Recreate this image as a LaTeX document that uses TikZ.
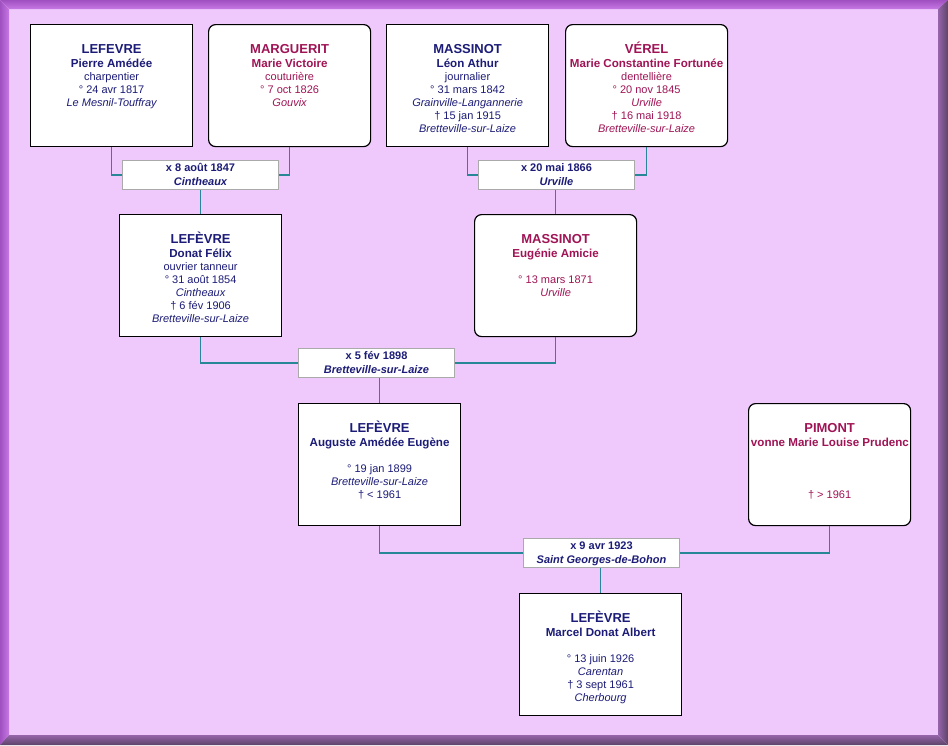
\documentclass[tikz,border=0pt]{standalone}
\usepackage{fontspec}
\setmainfont{Liberation Sans}
\usetikzlibrary{calc}
\definecolor{bg}{RGB}{240,201,252}
\definecolor{male}{RGB}{28,28,120}
\definecolor{fem}{RGB}{160,20,85}
\definecolor{link}{RGB}{40,135,150}
\definecolor{mbord}{RGB}{170,170,170}
\definecolor{frlo}{RGB}{160,80,192}
\definecolor{frli}{RGB}{198,120,228}
\definecolor{frdo}{RGB}{92,68,104}
\definecolor{frdi}{RGB}{150,100,170}
\newcommand\PNm{\fontsize{13}{15}\selectfont\bfseries}
\newcommand\PFn{\fontsize{11.6}{13}\selectfont\bfseries}
\newcommand\PIt{\fontsize{11}{13}\selectfont\itshape}
\newcommand\MBd{\fontsize{11}{13}\selectfont\bfseries}
\newcommand\MIt{\fontsize{11}{13}\selectfont\bfseries\itshape}
\tikzset{
  pbox/.style={draw=black, line width=1.2pt, fill=white, minimum width=162pt, minimum height=122pt, inner sep=0pt, anchor=north west},
  fbox/.style={pbox, rounded corners=7pt},
  mbox/.style={draw=mbord, line width=1pt, fill=white, minimum width=156pt, minimum height=29pt, inner sep=0pt, anchor=north west},
  lnk/.style={draw=link, line width=1.5pt},
  ln/.style={anchor=base, inner sep=0pt, font=\fontsize{11}{13}\selectfont},
}
\newcommand\ptext[3]{%
  \foreach \t [count=\i] in {#3}{%
    \pgfmathsetmacro\off{\i==1 ? 29 : (\i==2 ? 43 : 56+13*(\i-3))}
    \node[ln, text=#2] at ($(#1.north)+(0,\off)$) {\t};
  }}
\newcommand\mtext[3]{%
  \node[ln, text=male] at ($(#1.north)+(0,11.7)$) {\MBd #2};
  \node[ln, text=male] at ($(#1.north)+(0,25)$) {\MIt #3};}
\begin{document}
\begin{tikzpicture}[x=1pt,y=-1pt]
\useasboundingbox (0,0) rectangle (948,745);
% frame
\fill[bg] (9,9) rectangle (938,735);
\shade[top color=frlo, bottom color=frli] (0,0) -- (948,0) -- (938,9) -- (9,9) -- cycle;
\shade[left color=frlo, right color=frli] (0,0) -- (9,9) -- (9,735) -- (0,745) -- cycle;
\shade[top color=frdi, bottom color=frdo] (0,745) -- (9,735) -- (938,735) -- (948,745) -- cycle;
\shade[left color=frdi, right color=frdo] (948,0) -- (938,9) -- (938,735) -- (948,745) -- cycle;
% persons
\node[pbox] (p1) at (30,24) {};
\node[fbox] (p2) at (208,24) {};
\node[pbox] (p3) at (386,24) {};
\node[fbox] (p4) at (565,24) {};
\node[pbox] (d1) at (119,214) {};
\node[fbox] (e1) at (474,214) {};
\node[pbox] (a1) at (298,403) {};
\node[fbox] (pm) at (748,403) {};
\node[pbox] (mc) at (519,593) {};
% marriages
\node[mbox] (m1) at (122,160) {};
\node[mbox] (m2) at (478,160) {};
\node[mbox] (m3) at (298,348) {};
\node[mbox] (m4) at (523,538) {};
% connectors
\draw[lnk] (p1.south) |- (m1.west);
\draw[lnk] (p2.south) |- (m1.east);
\draw[lnk] (d1.north) -- (d1.north |- m1.south);
\draw[lnk] (p3.south) |- (m2.west);
\draw[lnk] (p4.south) |- (m2.east);
\draw[lnk] (e1.north) -- (e1.north |- m2.south);
\draw[lnk] (d1.south) |- (m3.west);
\draw[lnk] (e1.south) |- (m3.east);
\draw[lnk] (a1.north) -- (a1.north |- m3.south);
\draw[lnk] (a1.south) |- (m4.west);
\draw[lnk] (pm.south) |- (m4.east);
\draw[lnk] (mc.north) -- (mc.north |- m4.south);
% texts
\ptext{p1}{male}{{\PNm LEFEVRE},{\PFn Pierre Amédée},{charpentier},{° 24 avr 1817},{\PIt Le Mesnil-Touffray}}
\ptext{p2}{fem}{{\PNm MARGUERIT},{\PFn Marie Victoire},{couturière},{° 7 oct 1826},{\PIt Gouvix}}
\ptext{p3}{male}{{\PNm MASSINOT},{\PFn Léon Athur},{journalier},{° 31 mars 1842},{\PIt Grainville-Langannerie},{† 15 jan 1915},{\PIt Bretteville-sur-Laize}}
\ptext{p4}{fem}{{\PNm VÉREL},{\PFn Marie Constantine Fortunée},{dentellière},{° 20 nov 1845},{\PIt Urville},{† 16 mai 1918},{\PIt Bretteville-sur-Laize}}
\ptext{d1}{male}{{\PNm LEFÈVRE},{\PFn Donat Félix},{ouvrier tanneur},{° 31 août 1854},{\PIt Cintheaux},{† 6 fév 1906},{\PIt Bretteville-sur-Laize}}
\ptext{e1}{fem}{{\PNm MASSINOT},{\PFn Eugénie Amicie},{},{° 13 mars 1871},{\PIt Urville}}
\ptext{a1}{male}{{\PNm LEFÈVRE},{\PFn Auguste Amédée Eugène},{},{° 19 jan 1899},{\PIt Bretteville-sur-Laize},{† < 1961}}
\begin{scope}
\clip ($(pm.north west)+(3,0)$) rectangle ($(pm.south east)+(-3,0)$);
\ptext{pm}{fem}{{\PNm PIMONT},{\PFn Yvonne Marie Louise Prudence},{},{},{},{† > 1961}}
\end{scope}
\ptext{mc}{male}{{\PNm LEFÈVRE},{\PFn Marcel Donat Albert},{},{° 13 juin 1926},{\PIt Carentan},{† 3 sept 1961},{\PIt Cherbourg}}
\mtext{m1}{x 8 août 1847}{Cintheaux}
\mtext{m2}{x 20 mai 1866}{Urville}
\mtext{m3}{x 5 fév 1898}{Bretteville-sur-Laize}
\mtext{m4}{x 9 avr 1923}{Saint Georges-de-Bohon}
\end{tikzpicture}
\end{document}
